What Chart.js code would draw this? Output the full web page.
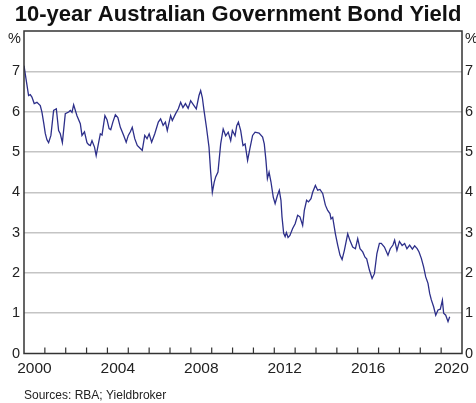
<!DOCTYPE html>
<html>
<head>
<meta charset="utf-8">
<script src="https://cdn.jsdelivr.net/npm/chart.js@4/dist/chart.umd.min.js"></script>
<style>
  body { margin: 0; background: #fff; }
  #wrap { width: 476px; height: 403px; position: relative; }
</style>
</head>
<body>
<div id="wrap"><canvas id="bondChart"></canvas></div>
<script>
const chartTitle = '10-year Australian Government Bond Yield';
const sourceNote = 'Sources: RBA; Yieldbroker';
const tickYears = [2000, 2004, 2008, 2012, 2016, 2020];
const yTicks = [0, 1, 2, 3, 4, 5, 6, 7];

// decimal year of each reading
const years = [
    2000.00, 2000.10, 2000.22, 2000.30, 2000.38, 2000.49, 2000.62, 2000.78, 2000.86, 2000.95,
    2001.02, 2001.10, 2001.18, 2001.29, 2001.42, 2001.55, 2001.66, 2001.74, 2001.84, 2001.98,
    2002.14, 2002.22, 2002.30, 2002.38, 2002.54, 2002.70, 2002.78, 2002.90,
    2003.02, 2003.10, 2003.18, 2003.26, 2003.38, 2003.46, 2003.58, 2003.66, 2003.74, 2003.88, 2003.98,
    2004.08, 2004.16, 2004.26, 2004.38, 2004.50, 2004.62, 2004.78, 2004.90,
    2005.00, 2005.10, 2005.19, 2005.31, 2005.43, 2005.59, 2005.67, 2005.79, 2005.90,
    2006.00, 2006.12, 2006.27, 2006.44, 2006.55, 2006.67, 2006.78, 2006.87,
    2007.03, 2007.11, 2007.27, 2007.40, 2007.51, 2007.62, 2007.74, 2007.87, 2007.99,
    2008.15, 2008.26, 2008.39, 2008.47, 2008.55, 2008.63, 2008.75, 2008.87, 2008.95,
    2009.03, 2009.12, 2009.19, 2009.30, 2009.43, 2009.55, 2009.67, 2009.79, 2009.91, 2009.99,
    2010.12, 2010.20, 2010.28, 2010.39, 2010.50, 2010.60, 2010.72, 2010.83, 2010.96,
    2011.08, 2011.27, 2011.44, 2011.52, 2011.60, 2011.67, 2011.75, 2011.84, 2011.95,
    2012.04, 2012.15, 2012.24, 2012.32, 2012.37, 2012.45, 2012.52, 2012.58, 2012.66, 2012.75, 2012.88,
    2013.00, 2013.12, 2013.23, 2013.36, 2013.44, 2013.55, 2013.64, 2013.76, 2013.84, 2013.97,
    2014.08, 2014.19, 2014.32, 2014.45, 2014.56, 2014.67, 2014.72, 2014.80, 2014.93,
    2015.04, 2015.15, 2015.25, 2015.36, 2015.52, 2015.63, 2015.76, 2015.89,
    2016.00, 2016.11, 2016.24, 2016.35, 2016.43, 2016.56, 2016.69, 2016.80, 2016.92,
    2017.04, 2017.13, 2017.28, 2017.45, 2017.56, 2017.69, 2017.77, 2017.88,
    2018.00, 2018.13, 2018.25, 2018.36, 2018.49, 2018.62, 2018.73, 2018.85, 2018.94,
    2019.05, 2019.16, 2019.26, 2019.37, 2019.45, 2019.53, 2019.64, 2019.74, 2019.85, 2019.96,
    2020.06, 2020.12, 2020.22, 2020.33, 2020.41
];

// 10-year yield, per cent
const yields = [
    7.14, 6.80, 6.40, 6.42, 6.36, 6.20, 6.23, 6.15, 5.99, 5.70,
    5.46, 5.30, 5.23, 5.41, 6.03, 6.07, 5.53, 5.45, 5.23, 5.95,
    5.99, 6.03, 5.98, 6.17, 5.90, 5.70, 5.41, 5.50,
    5.23, 5.18, 5.16, 5.28, 5.12, 4.91, 5.24, 5.45, 5.42, 5.90, 5.80,
    5.58, 5.55, 5.74, 5.92, 5.85, 5.61, 5.41, 5.24,
    5.41, 5.50, 5.61, 5.33, 5.16, 5.08, 5.04, 5.41, 5.33,
    5.45, 5.24, 5.45, 5.74, 5.82, 5.66, 5.74, 5.53,
    5.90, 5.78, 5.95, 6.07, 6.23, 6.10, 6.20, 6.08, 6.27,
    6.15, 6.07, 6.40, 6.52, 6.35, 6.03, 5.60, 5.12, 4.50,
    4.00, 4.25, 4.38, 4.50, 5.20, 5.57, 5.40, 5.49, 5.28, 5.53,
    5.40, 5.65, 5.74, 5.53, 5.16, 5.20, 4.79, 5.08, 5.41,
    5.49, 5.47, 5.37, 5.20, 4.79, 4.34, 4.50, 4.26, 3.88,
    3.72, 3.92, 4.05, 3.80, 3.39, 2.98, 2.90, 3.00, 2.88, 2.93, 3.10,
    3.22, 3.43, 3.39, 3.18, 3.55, 3.80, 3.76, 3.84, 4.00, 4.17,
    4.05, 4.07, 3.97, 3.68, 3.55, 3.47, 3.34, 3.38, 2.97,
    2.69, 2.44, 2.33, 2.56, 2.97, 2.80, 2.64, 2.60,
    2.85, 2.60, 2.52, 2.39, 2.35, 2.07, 1.86, 1.98, 2.48,
    2.73, 2.73, 2.64, 2.44, 2.60, 2.69, 2.81, 2.56,
    2.78, 2.68, 2.73, 2.60, 2.69, 2.59, 2.67, 2.60, 2.52,
    2.36, 2.15, 1.90, 1.74, 1.49, 1.33, 1.16, 0.95, 1.08, 1.10,
    1.32, 1.00, 0.95, 0.79, 0.91
];

const fontFamily = '"Liberation Sans", Arial, sans-serif';
const inkColor = '#222';

// frame, inside year ticks, % signs and the source line
const framePlugin = {
    id: 'frame',
    afterDraw(chart) {
        const { ctx, chartArea: a, scales } = chart;
        ctx.save();
        ctx.strokeStyle = '#333';
        ctx.lineWidth = 1.5;
        ctx.strokeRect(a.left, a.top, a.right - a.left, a.bottom - a.top);

        ctx.lineWidth = 1.2;
        ctx.beginPath();
        for (let yr = 2001; yr <= 2020; yr++) {
            const px = scales.x.getPixelForValue(yr);
            ctx.moveTo(px, a.bottom);
            ctx.lineTo(px, a.bottom - 6);
        }
        ctx.stroke();

        ctx.fillStyle = inkColor;
        ctx.font = '14.5px ' + fontFamily;
        ctx.textBaseline = 'top';
        ctx.textAlign = 'right';
        ctx.fillText('%', a.left - 3, a.top + 1);
        ctx.textAlign = 'left';
        ctx.fillText('%', a.right + 3, a.top + 1);

        ctx.font = '12px ' + fontFamily;
        ctx.textBaseline = 'alphabetic';
        ctx.fillText(sourceNote, a.left, 399);
        ctx.restore();
    }
};

const yTickOptions = {
    color: inkColor,
    font: { family: fontFamily, size: 14.5 },
    stepSize: 1,
    padding: 4,
    callback: v => (yTicks.includes(v) ? String(v) : '')
};

new Chart(document.getElementById('bondChart'), {
    type: 'line',
    data: {
        datasets: [{
            data: years.map((yr, i) => ({ x: yr, y: yields[i] })),
            borderColor: '#2d2f8a',
            borderWidth: 1.3,
            pointRadius: 0,
            tension: 0,
            fill: false
        }]
    },
    options: {
        responsive: true,
        maintainAspectRatio: false,
        animation: false,
        layout: { padding: 0 },
        plugins: {
            legend: { display: false },
            tooltip: { enabled: false },
            title: {
                display: true,
                text: chartTitle,
                color: '#111',
                font: { family: fontFamily, size: 22, weight: 'bold', lineHeight: 1.2 },
                padding: { top: 2, bottom: 2.6 }
            }
        },
        scales: {
            x: {
                type: 'linear',
                min: 2000,
                max: 2021,
                grid: { display: false, drawTicks: false },
                border: { display: false },
                afterBuildTicks: scale => {
                    scale.ticks = tickYears.map(yr => ({ value: yr + 0.5 }));
                },
                afterFit: scale => { scale.height = 49.5; },
                ticks: {
                    autoSkip: false,
                    maxRotation: 0,
                    padding: 6,
                    color: inkColor,
                    font: { family: fontFamily, size: 15.5 },
                    callback: v => String(Math.floor(v))
                }
            },
            y: {
                position: 'left',
                min: 0,
                max: 8,
                grid: {
                    color: ctx => (ctx.tick.value > 0 && ctx.tick.value < 8 ? '#c4c4c4' : 'rgba(0,0,0,0)'),
                    lineWidth: 1.5,
                    drawTicks: false
                },
                border: { display: false },
                afterFit: scale => { scale.width = 24; },
                ticks: yTickOptions
            },
            y2: {
                position: 'right',
                min: 0,
                max: 8,
                grid: { display: false, drawTicks: false },
                border: { display: false },
                afterFit: scale => { scale.width = 14; },
                ticks: Object.assign({}, yTickOptions, { padding: 3 })
            }
        }
    },
    plugins: [framePlugin]
});
</script>
</body>
</html>
